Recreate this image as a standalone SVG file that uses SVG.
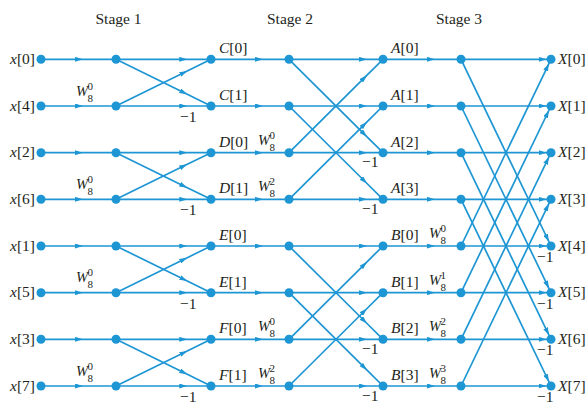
<svg xmlns="http://www.w3.org/2000/svg" width="587" height="406" viewBox="0 0 587 406">
<style>
.c path{fill:none;stroke:#1e96d4;stroke-width:1.7;marker-mid:url(#ah)}
.c path.t{marker-mid:none;marker-end:url(#ahe)}
.d{fill:#1e96d4}
text{font-family:"Liberation Serif","Times New Roman",serif;fill:#231f20;font-size:15.5px}
.i{font-style:italic}
.w{font-style:italic;font-size:14.5px}
.s{font-size:11px;font-style:normal}
.r{text-anchor:end}
.m{text-anchor:middle}
</style>
<defs>
<marker id="ah" viewBox="0 0 8 5" markerWidth="8" markerHeight="5" markerUnits="userSpaceOnUse" refX="8" refY="2.5" orient="auto"><path d="M0,0 L8,2.5 L0,5 Z" fill="#1e96d4"/></marker>
<marker id="ahe" viewBox="0 0 8 5" markerWidth="8" markerHeight="5" markerUnits="userSpaceOnUse" refX="12.5" refY="2.5" orient="auto"><path d="M0,0 L8,2.5 L0,5 Z" fill="#1e96d4"/></marker>
</defs>
<g id="titles">
<text class="m" x="118.5" y="24">Stage 1</text>
<text class="m" x="290" y="24">Stage 2</text>
<text class="m" x="459" y="24">Stage 3</text>
</g>
<g id="connectors" class="c">
<path d="M41 59.3L83 59.3L116 59.3"/>
<path d="M41 106L83 106L116 106"/>
<path d="M41 152.7L83 152.7L116 152.7"/>
<path d="M41 199.3L83 199.3L116 199.3"/>
<path d="M41 246L83 246L116 246"/>
<path d="M41 292.7L83 292.7L116 292.7"/>
<path d="M41 339.3L83 339.3L116 339.3"/>
<path d="M41 386L83 386L116 386"/>
<path d="M116 59.3L187.25 59.3L211 59.3"/>
<path d="M116 106L187.25 106L211 106"/>
<path d="M116 152.7L187.25 152.7L211 152.7"/>
<path d="M116 199.3L187.25 199.3L211 199.3"/>
<path d="M116 246L187.25 246L211 246"/>
<path d="M116 292.7L187.25 292.7L211 292.7"/>
<path d="M116 339.3L187.25 339.3L211 339.3"/>
<path d="M116 386L187.25 386L211 386"/>
<path d="M116 59.3L187.25 94.3L211 106"/>
<path d="M116 106L187.25 71L211 59.3"/>
<path d="M116 152.7L187.25 187.7L211 199.3"/>
<path d="M116 199.3L187.25 164.3L211 152.7"/>
<path d="M116 246L187.25 281L211 292.7"/>
<path d="M116 292.7L187.25 257.7L211 246"/>
<path d="M116 339.3L187.25 374.3L211 386"/>
<path d="M116 386L187.25 351L211 339.3"/>
<path d="M211 59.3L263 59.3L289 59.3"/>
<path d="M211 106L263 106L289 106"/>
<path d="M211 152.7L263 152.7L289 152.7"/>
<path d="M211 199.3L263 199.3L289 199.3"/>
<path d="M211 246L263 246L289 246"/>
<path d="M211 292.7L263 292.7L289 292.7"/>
<path d="M211 339.3L263 339.3L289 339.3"/>
<path d="M211 386L263 386L289 386"/>
<path d="M289 59.3L367 59.3L383 59.3"/>
<path d="M289 106L367 106L383 106"/>
<path d="M289 152.7L367 152.7L383 152.7"/>
<path d="M289 199.3L367 199.3L383 199.3"/>
<path d="M289 246L367 246L383 246"/>
<path d="M289 292.7L367 292.7L383 292.7"/>
<path d="M289 339.3L367 339.3L383 339.3"/>
<path d="M289 386L367 386L383 386"/>
<path d="M289 59.3L367 136.8L383 152.7"/>
<path d="M289 152.7L367 75.2L383 59.3"/>
<path d="M289 106L367 183.5L383 199.3"/>
<path d="M289 199.3L367 121.8L383 106"/>
<path d="M289 246L367 323.5L383 339.3"/>
<path d="M289 339.3L367 261.8L383 246"/>
<path d="M289 292.7L367 370.2L383 386"/>
<path d="M289 386L367 308.5L383 292.7"/>
<path d="M383 59.3L435 59.3L461 59.3"/>
<path d="M383 106L435 106L461 106"/>
<path d="M383 152.7L435 152.7L461 152.7"/>
<path d="M383 199.3L435 199.3L461 199.3"/>
<path d="M383 246L435 246L461 246"/>
<path d="M383 292.7L435 292.7L461 292.7"/>
<path d="M383 339.3L435 339.3L461 339.3"/>
<path d="M383 386L435 386L461 386"/>
<path class="t" d="M461 59.3L551 59.3"/>
<path class="t" d="M461 106L551 106"/>
<path class="t" d="M461 152.7L551 152.7"/>
<path class="t" d="M461 199.3L551 199.3"/>
<path class="t" d="M461 246L551 246"/>
<path class="t" d="M461 292.7L551 292.7"/>
<path class="t" d="M461 339.3L551 339.3"/>
<path class="t" d="M461 386L551 386"/>
<path class="t" d="M461 59.3L551 246"/>
<path class="t" d="M461 106L551 292.7"/>
<path class="t" d="M461 152.7L551 339.3"/>
<path class="t" d="M461 199.3L551 386"/>
<path class="t" d="M461 246L551 59.3"/>
<path class="t" d="M461 292.7L551 106"/>
<path class="t" d="M461 339.3L551 152.7"/>
<path class="t" d="M461 386L551 199.3"/>
</g>
<g id="edge-labels">
<text class="w"><tspan x="76" y="95.5">W</tspan><tspan class="s" x="87.5" y="101.5">8</tspan><tspan class="s" x="87.5" y="89.5">0</tspan></text>
<text class="w"><tspan x="76" y="188.8">W</tspan><tspan class="s" x="87.5" y="194.8">8</tspan><tspan class="s" x="87.5" y="182.8">0</tspan></text>
<text class="w"><tspan x="76" y="282.2">W</tspan><tspan class="s" x="87.5" y="288.2">8</tspan><tspan class="s" x="87.5" y="276.2">0</tspan></text>
<text class="w"><tspan x="76" y="375.5">W</tspan><tspan class="s" x="87.5" y="381.5">8</tspan><tspan class="s" x="87.5" y="369.5">0</tspan></text>
<text class="w"><tspan x="258" y="144.7">W</tspan><tspan class="s" x="269.5" y="150.7">8</tspan><tspan class="s" x="269.5" y="138.7">0</tspan></text>
<text class="w"><tspan x="258" y="191.3">W</tspan><tspan class="s" x="269.5" y="197.3">8</tspan><tspan class="s" x="269.5" y="185.3">2</tspan></text>
<text class="w"><tspan x="258" y="331.3">W</tspan><tspan class="s" x="269.5" y="337.3">8</tspan><tspan class="s" x="269.5" y="325.3">0</tspan></text>
<text class="w"><tspan x="258" y="378">W</tspan><tspan class="s" x="269.5" y="384">8</tspan><tspan class="s" x="269.5" y="372">2</tspan></text>
<text class="w"><tspan x="429" y="238">W</tspan><tspan class="s" x="440.5" y="244">8</tspan><tspan class="s" x="440.5" y="232">0</tspan></text>
<text class="w"><tspan x="429" y="284.7">W</tspan><tspan class="s" x="440.5" y="290.7">8</tspan><tspan class="s" x="440.5" y="278.7">1</tspan></text>
<text class="w"><tspan x="429" y="331.3">W</tspan><tspan class="s" x="440.5" y="337.3">8</tspan><tspan class="s" x="440.5" y="325.3">2</tspan></text>
<text class="w"><tspan x="429" y="378">W</tspan><tspan class="s" x="440.5" y="384">8</tspan><tspan class="s" x="440.5" y="372">3</tspan></text>
<text x="180" y="122">−1</text>
<text x="180" y="215.3">−1</text>
<text x="180" y="308.7">−1</text>
<text x="180" y="402">−1</text>
<text x="362" y="167.2">−1</text>
<text x="362" y="213.8">−1</text>
<text x="362" y="353.8">−1</text>
<text x="362" y="400.5">−1</text>
<text x="537" y="262">−1</text>
<text x="537" y="308.7">−1</text>
<text x="537" y="355.3">−1</text>
<text x="537" y="402">−1</text>
</g>
<g id="in0"><circle class="d" cx="41" cy="59.3" r="4.5"/><text class="r" x="35" y="64"><tspan class="i">x</tspan>[0]</text></g>
<g id="in4"><circle class="d" cx="41" cy="106" r="4.5"/><text class="r" x="35" y="110.7"><tspan class="i">x</tspan>[4]</text></g>
<g id="in2"><circle class="d" cx="41" cy="152.7" r="4.5"/><text class="r" x="35" y="157.4"><tspan class="i">x</tspan>[2]</text></g>
<g id="in6"><circle class="d" cx="41" cy="199.3" r="4.5"/><text class="r" x="35" y="204"><tspan class="i">x</tspan>[6]</text></g>
<g id="in1"><circle class="d" cx="41" cy="246" r="4.5"/><text class="r" x="35" y="250.7"><tspan class="i">x</tspan>[1]</text></g>
<g id="in5"><circle class="d" cx="41" cy="292.7" r="4.5"/><text class="r" x="35" y="297.4"><tspan class="i">x</tspan>[5]</text></g>
<g id="in3"><circle class="d" cx="41" cy="339.3" r="4.5"/><text class="r" x="35" y="344"><tspan class="i">x</tspan>[3]</text></g>
<g id="in7"><circle class="d" cx="41" cy="386" r="4.5"/><text class="r" x="35" y="390.7"><tspan class="i">x</tspan>[7]</text></g>
<g id="s1-0"><circle class="d" cx="116" cy="59.3" r="4.5"/></g>
<g id="s1-1"><circle class="d" cx="116" cy="106" r="4.5"/></g>
<g id="s1-2"><circle class="d" cx="116" cy="152.7" r="4.5"/></g>
<g id="s1-3"><circle class="d" cx="116" cy="199.3" r="4.5"/></g>
<g id="s1-4"><circle class="d" cx="116" cy="246" r="4.5"/></g>
<g id="s1-5"><circle class="d" cx="116" cy="292.7" r="4.5"/></g>
<g id="s1-6"><circle class="d" cx="116" cy="339.3" r="4.5"/></g>
<g id="s1-7"><circle class="d" cx="116" cy="386" r="4.5"/></g>
<g id="C0"><circle class="d" cx="211" cy="59.3" r="4.5"/><text x="219" y="53.3"><tspan class="i">C</tspan>[0]</text></g>
<g id="C1"><circle class="d" cx="211" cy="106" r="4.5"/><text x="219" y="100"><tspan class="i">C</tspan>[1]</text></g>
<g id="D0"><circle class="d" cx="211" cy="152.7" r="4.5"/><text x="219" y="146.7"><tspan class="i">D</tspan>[0]</text></g>
<g id="D1"><circle class="d" cx="211" cy="199.3" r="4.5"/><text x="219" y="193.3"><tspan class="i">D</tspan>[1]</text></g>
<g id="E0"><circle class="d" cx="211" cy="246" r="4.5"/><text x="219" y="240"><tspan class="i">E</tspan>[0]</text></g>
<g id="E1"><circle class="d" cx="211" cy="292.7" r="4.5"/><text x="219" y="286.7"><tspan class="i">E</tspan>[1]</text></g>
<g id="F0"><circle class="d" cx="211" cy="339.3" r="4.5"/><text x="219" y="333.3"><tspan class="i">F</tspan>[0]</text></g>
<g id="F1"><circle class="d" cx="211" cy="386" r="4.5"/><text x="219" y="380"><tspan class="i">F</tspan>[1]</text></g>
<g id="s2-0"><circle class="d" cx="289" cy="59.3" r="4.5"/></g>
<g id="s2-1"><circle class="d" cx="289" cy="106" r="4.5"/></g>
<g id="s2-2"><circle class="d" cx="289" cy="152.7" r="4.5"/></g>
<g id="s2-3"><circle class="d" cx="289" cy="199.3" r="4.5"/></g>
<g id="s2-4"><circle class="d" cx="289" cy="246" r="4.5"/></g>
<g id="s2-5"><circle class="d" cx="289" cy="292.7" r="4.5"/></g>
<g id="s2-6"><circle class="d" cx="289" cy="339.3" r="4.5"/></g>
<g id="s2-7"><circle class="d" cx="289" cy="386" r="4.5"/></g>
<g id="A0"><circle class="d" cx="383" cy="59.3" r="4.5"/><text x="391" y="53.3"><tspan class="i">A</tspan>[0]</text></g>
<g id="A1"><circle class="d" cx="383" cy="106" r="4.5"/><text x="391" y="100"><tspan class="i">A</tspan>[1]</text></g>
<g id="A2"><circle class="d" cx="383" cy="152.7" r="4.5"/><text x="391" y="146.7"><tspan class="i">A</tspan>[2]</text></g>
<g id="A3"><circle class="d" cx="383" cy="199.3" r="4.5"/><text x="391" y="193.3"><tspan class="i">A</tspan>[3]</text></g>
<g id="B0"><circle class="d" cx="383" cy="246" r="4.5"/><text x="391" y="240"><tspan class="i">B</tspan>[0]</text></g>
<g id="B1"><circle class="d" cx="383" cy="292.7" r="4.5"/><text x="391" y="286.7"><tspan class="i">B</tspan>[1]</text></g>
<g id="B2"><circle class="d" cx="383" cy="339.3" r="4.5"/><text x="391" y="333.3"><tspan class="i">B</tspan>[2]</text></g>
<g id="B3"><circle class="d" cx="383" cy="386" r="4.5"/><text x="391" y="380"><tspan class="i">B</tspan>[3]</text></g>
<g id="s3-0"><circle class="d" cx="461" cy="59.3" r="4.5"/></g>
<g id="s3-1"><circle class="d" cx="461" cy="106" r="4.5"/></g>
<g id="s3-2"><circle class="d" cx="461" cy="152.7" r="4.5"/></g>
<g id="s3-3"><circle class="d" cx="461" cy="199.3" r="4.5"/></g>
<g id="s3-4"><circle class="d" cx="461" cy="246" r="4.5"/></g>
<g id="s3-5"><circle class="d" cx="461" cy="292.7" r="4.5"/></g>
<g id="s3-6"><circle class="d" cx="461" cy="339.3" r="4.5"/></g>
<g id="s3-7"><circle class="d" cx="461" cy="386" r="4.5"/></g>
<g id="X0"><circle class="d" cx="551" cy="59.3" r="4.5"/><text x="558" y="64"><tspan class="i">X</tspan>[0]</text></g>
<g id="X1"><circle class="d" cx="551" cy="106" r="4.5"/><text x="558" y="110.7"><tspan class="i">X</tspan>[1]</text></g>
<g id="X2"><circle class="d" cx="551" cy="152.7" r="4.5"/><text x="558" y="157.4"><tspan class="i">X</tspan>[2]</text></g>
<g id="X3"><circle class="d" cx="551" cy="199.3" r="4.5"/><text x="558" y="204"><tspan class="i">X</tspan>[3]</text></g>
<g id="X4"><circle class="d" cx="551" cy="246" r="4.5"/><text x="558" y="250.7"><tspan class="i">X</tspan>[4]</text></g>
<g id="X5"><circle class="d" cx="551" cy="292.7" r="4.5"/><text x="558" y="297.4"><tspan class="i">X</tspan>[5]</text></g>
<g id="X6"><circle class="d" cx="551" cy="339.3" r="4.5"/><text x="558" y="344"><tspan class="i">X</tspan>[6]</text></g>
<g id="X7"><circle class="d" cx="551" cy="386" r="4.5"/><text x="558" y="390.7"><tspan class="i">X</tspan>[7]</text></g>
</svg>
